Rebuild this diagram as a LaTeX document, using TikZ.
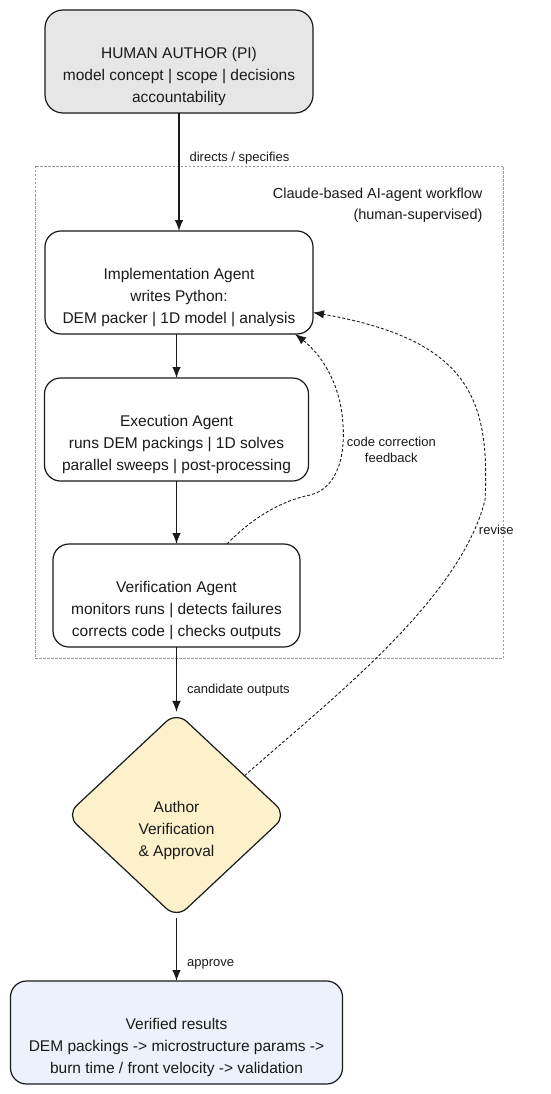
\documentclass[tikz,border=0pt]{standalone}
\usepackage{fontspec}
\setmainfont{Liberation Sans}
\usetikzlibrary{positioning, shapes.geometric, arrows.meta}
\definecolor{humangray}{HTML}{E6E6E6}
\definecolor{approvecream}{HTML}{FDF1CC}
\definecolor{resultblue}{HTML}{EDF1FC}
\definecolor{inkdark}{HTML}{1A1A1A}
\definecolor{framegray}{HTML}{9A9A9A}
\newcommand{\topgap}{\rule{0pt}{42pt}}

\begin{document}
\begin{tikzpicture}[x=1pt, y=-1pt, >={Latex[length=11pt,width=8.5pt]},
  box/.style={draw=inkdark, line width=1.2pt, rectangle, rounded corners=16pt, align=center, minimum height=103pt, inner sep=2pt, outer sep=0pt, font=\fontsize{15.5}{22}\selectfont, text=inkdark},
  flow/.style={->, line width=1.2pt, draw=inkdark},
  loopback/.style={->, dash pattern=on 3pt off 2pt, line width=0.9pt, draw=inkdark},
  tag/.style={font=\fontsize{13}{16}\selectfont, text=inkdark, inner xsep=10pt, inner ysep=2pt}]
\fill[white] (0,0) rectangle (550,1094);
\useasboundingbox (0,0) rectangle (550,1094);

% supervised workflow frame
\draw[framegray, dash pattern=on 2.5pt off 1.5pt, line width=0.8pt] (35,166) rectangle (503,658);
\node[anchor=north east, align=right, font=\fontsize{14.5}{21}\selectfont, text=inkdark] (workflowtag) at (486,184) {Claude-based AI-agent workflow\\(human-supervised)};

\node[box, fill=humangray, minimum width=268pt, rounded corners=18pt] (human) at (179,61.5) {\topgap HUMAN AUTHOR (PI)\\model concept | scope | decisions\\accountability};
\node[box, fill=white, minimum width=268pt, below=118pt of human] (impl) {\topgap Implementation Agent\\writes Python:\\DEM packer | 1D model | analysis};
\node[box, fill=white, minimum width=264pt, below=44pt of impl, xshift=-2.5pt] (exec) {\topgap Execution Agent\\runs DEM packings | 1D solves\\parallel sweeps | post-processing};
\node[box, fill=white, minimum width=247pt, below=63pt of exec] (verif) {\topgap Verification Agent\\monitors runs | detects failures\\corrects code | checks outputs};
\node[diamond, draw=inkdark, line width=1.2pt, fill=approvecream, rounded corners=14pt, minimum width=220pt, minimum height=206pt, inner sep=0pt, outer sep=0pt, align=center, font=\fontsize{15.5}{22}\selectfont, text=inkdark, below=65pt of verif] (approval) {\topgap Author\\Verification\\\& Approval};
\node[box, fill=resultblue, minimum width=332pt, below=63pt of approval] (results) {\topgap Verified results\\DEM packings -> microstructure params ->\\burn time / front velocity -> validation};

\draw[flow] (human) -- (impl) node[pos=0.38, right, tag] {directs / specifies};
\draw[flow] (exec.north |- impl.south) -- (exec);
\draw[flow] (exec) -- (verif);
\draw[flow] (verif) -- (approval) node[pos=0.67, right, tag] {candidate outputs};
\draw[flow] (approval) -- (results) node[pos=0.74, right, tag] {approve};

% feedback loops
\draw[loopback] ([xshift=50.5pt]verif.north) .. controls (255,515) and (285,500) .. (310,495)
  .. controls (340,488) and (345,450) .. (343,425) node[pos=0.7, right, tag, inner xsep=4pt, align=center] {code correction\\feedback}
  .. controls (341,385) and (322,355) .. ([xshift=-18pt]impl.south east);
\draw[loopback] (approval.30) .. controls (330,700) and (460,600) .. (485,500) node[pos=0.9, right, tag, inner xsep=4pt] {revise}
  .. controls (490,400) and (470,340) .. ([yshift=-30pt]impl.east);
\end{tikzpicture}
\end{document}
